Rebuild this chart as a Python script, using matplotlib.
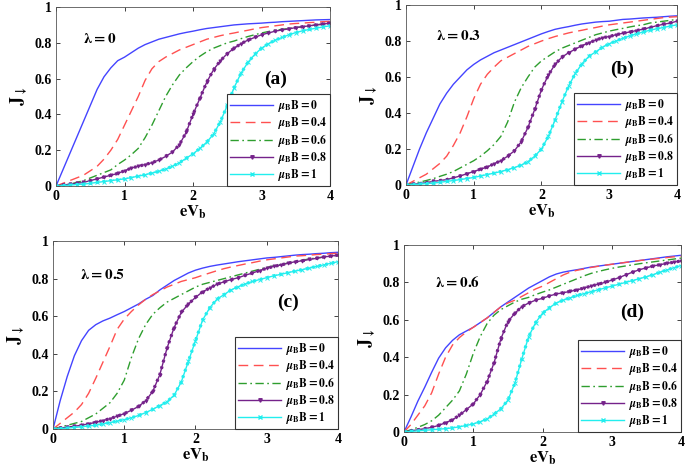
import matplotlib
matplotlib.use("Agg")
import matplotlib.pyplot as plt
from matplotlib.lines import Line2D

plt.rcParams['font.family'] = ['Liberation Serif', 'DejaVu Serif']
plt.rcParams['font.weight'] = 'bold'
plt.rcParams['mathtext.fontset'] = 'stix'

# ---------------- data ----------------
eVb = [0.0, 0.1, 0.2, 0.3, 0.4, 0.5, 0.6, 0.7, 0.8, 0.9,
       1.0, 1.1, 1.2, 1.3, 1.4, 1.5, 1.6, 1.7, 1.8, 1.9,
       2.0, 2.1, 2.2, 2.3, 2.4, 2.5, 2.6, 2.7, 2.8, 2.9,
       3.0, 3.1, 3.2, 3.3, 3.4, 3.5, 3.6, 3.7, 3.8, 3.9, 4.0]

field_labels = ['0', '0.4', '0.6', '0.8', '1']
lambda_labels = ['0', '0.3', '0.5', '0.6']
panel_tags = ['(a)', '(b)', '(c)', '(d)']

# panel (a): lambda = 0
a_B0  = [0, 0.09, 0.18, 0.27, 0.36, 0.45, 0.54, 0.61, 0.66, 0.70,
         0.72, 0.745, 0.77, 0.79, 0.805, 0.82, 0.83, 0.84, 0.85, 0.858,
         0.865, 0.873, 0.88, 0.885, 0.89, 0.895, 0.90, 0.903, 0.906, 0.908,
         0.91, 0.913, 0.915, 0.918, 0.92, 0.922, 0.924, 0.926, 0.928, 0.929, 0.93]
a_B04 = [0, 0.015, 0.03, 0.045, 0.06, 0.085, 0.11, 0.15, 0.2, 0.26,
         0.34, 0.42, 0.50, 0.59, 0.655, 0.695, 0.72, 0.74, 0.76, 0.775,
         0.79, 0.805, 0.82, 0.83, 0.84, 0.848, 0.855, 0.863, 0.87, 0.878,
         0.885, 0.89, 0.895, 0.90, 0.905, 0.908, 0.91, 0.913, 0.915, 0.918, 0.92]
a_B06 = [0, 0.005, 0.01, 0.02, 0.03, 0.045, 0.06, 0.075, 0.09, 0.12,
         0.145, 0.175, 0.21, 0.27, 0.34, 0.42, 0.50, 0.565, 0.62, 0.66,
         0.695, 0.725, 0.75, 0.77, 0.785, 0.80, 0.81, 0.823, 0.835, 0.845,
         0.855, 0.863, 0.87, 0.875, 0.88, 0.885, 0.89, 0.895, 0.90, 0.905, 0.91]
a_B08 = [0, 0.005, 0.01, 0.015, 0.02, 0.03, 0.04, 0.05, 0.06, 0.07,
         0.085, 0.1, 0.11, 0.12, 0.13, 0.145, 0.165, 0.19, 0.23, 0.30,
         0.40, 0.49, 0.58, 0.65, 0.70, 0.74, 0.77, 0.795, 0.815, 0.83,
         0.845, 0.855, 0.865, 0.872, 0.878, 0.885, 0.89, 0.895, 0.90, 0.905, 0.91]
a_B1  = [0, 0.002, 0.005, 0.008, 0.01, 0.015, 0.02, 0.025, 0.03, 0.035,
         0.04, 0.047, 0.055, 0.063, 0.072, 0.082, 0.095, 0.11, 0.13, 0.155,
         0.18, 0.21, 0.245, 0.29, 0.36, 0.45, 0.55, 0.63, 0.69, 0.735,
         0.77, 0.795, 0.815, 0.83, 0.845, 0.857, 0.867, 0.875, 0.882, 0.889, 0.895]

# panel (b): lambda = 0.3
b_B0  = [0, 0.1, 0.2, 0.29, 0.37, 0.45, 0.51, 0.56, 0.60, 0.64,
         0.67, 0.695, 0.715, 0.735, 0.75, 0.765, 0.78, 0.795, 0.81, 0.825,
         0.84, 0.853, 0.865, 0.873, 0.88, 0.888, 0.895, 0.90, 0.905, 0.908,
         0.91, 0.915, 0.92, 0.922, 0.925, 0.928, 0.93, 0.932, 0.935, 0.938, 0.94]
b_B04 = [0, 0.02, 0.04, 0.06, 0.09, 0.12, 0.16, 0.22, 0.29, 0.38,
         0.48, 0.56, 0.615, 0.655, 0.69, 0.71, 0.73, 0.75, 0.77, 0.785,
         0.80, 0.813, 0.825, 0.835, 0.845, 0.853, 0.86, 0.868, 0.875, 0.883,
         0.89, 0.895, 0.90, 0.905, 0.91, 0.915, 0.92, 0.925, 0.93, 0.933, 0.935]
b_B06 = [0, 0.008, 0.016, 0.025, 0.035, 0.048, 0.06, 0.075, 0.095, 0.115,
         0.135, 0.16, 0.19, 0.225, 0.27, 0.35, 0.46, 0.54, 0.60, 0.655,
         0.69, 0.715, 0.74, 0.76, 0.775, 0.79, 0.805, 0.82, 0.835, 0.845,
         0.855, 0.863, 0.87, 0.878, 0.885, 0.89, 0.90, 0.905, 0.91, 0.915, 0.92]
b_B08 = [0, 0.004, 0.008, 0.013, 0.02, 0.025, 0.03, 0.04, 0.05, 0.063,
         0.075, 0.088, 0.10, 0.118, 0.135, 0.16, 0.19, 0.24, 0.32, 0.42,
         0.53, 0.61, 0.67, 0.71, 0.735, 0.755, 0.775, 0.79, 0.805, 0.818,
         0.825, 0.835, 0.843, 0.85, 0.858, 0.866, 0.875, 0.885, 0.893, 0.90, 0.91]
b_B1  = [0, 0.002, 0.005, 0.008, 0.01, 0.015, 0.02, 0.025, 0.03, 0.036,
         0.042, 0.05, 0.058, 0.066, 0.075, 0.085, 0.097, 0.11, 0.13, 0.16,
         0.20, 0.27, 0.36, 0.46, 0.55, 0.62, 0.675, 0.715, 0.74, 0.765,
         0.785, 0.80, 0.815, 0.828, 0.84, 0.85, 0.86, 0.868, 0.875, 0.883, 0.89]

# panel (c): lambda = 0.5
c_B0  = [0, 0.15, 0.28, 0.39, 0.47, 0.525, 0.555, 0.575, 0.59, 0.608,
         0.625, 0.645, 0.665, 0.69, 0.71, 0.74, 0.765, 0.79, 0.81, 0.83,
         0.845, 0.856, 0.865, 0.872, 0.878, 0.884, 0.89, 0.895, 0.90, 0.905,
         0.91, 0.913, 0.917, 0.921, 0.925, 0.928, 0.93, 0.933, 0.935, 0.938, 0.94]
c_B04 = [0, 0.03, 0.06, 0.09, 0.13, 0.19, 0.27, 0.355, 0.44, 0.53,
         0.585, 0.625, 0.66, 0.69, 0.715, 0.735, 0.755, 0.77, 0.785, 0.795,
         0.805, 0.818, 0.83, 0.842, 0.853, 0.862, 0.87, 0.878, 0.885, 0.893,
         0.90, 0.905, 0.91, 0.915, 0.92, 0.922, 0.925, 0.928, 0.93, 0.933, 0.935]
c_B06 = [0, 0.01, 0.02, 0.03, 0.04, 0.06, 0.08, 0.11, 0.14, 0.19,
         0.26, 0.38, 0.48, 0.555, 0.61, 0.645, 0.675, 0.695, 0.715, 0.735,
         0.755, 0.77, 0.78, 0.79, 0.80, 0.81, 0.82, 0.83, 0.84, 0.85,
         0.86, 0.868, 0.875, 0.883, 0.89, 0.898, 0.905, 0.91, 0.915, 0.92, 0.925]
c_B08 = [0, 0.005, 0.01, 0.015, 0.02, 0.028, 0.035, 0.045, 0.055, 0.068,
         0.082, 0.10, 0.12, 0.15, 0.2, 0.29, 0.43, 0.54, 0.62, 0.665,
         0.70, 0.73, 0.75, 0.77, 0.783, 0.795, 0.805, 0.818, 0.83, 0.843,
         0.855, 0.865, 0.873, 0.882, 0.89, 0.895, 0.902, 0.908, 0.915, 0.92, 0.925]
c_B1  = [0, 0.002, 0.005, 0.008, 0.012, 0.016, 0.02, 0.027, 0.034, 0.042,
         0.05, 0.06, 0.072, 0.087, 0.105, 0.125, 0.145, 0.18, 0.25, 0.36,
         0.47, 0.58, 0.645, 0.69, 0.715, 0.74, 0.757, 0.772, 0.785, 0.795,
         0.805, 0.815, 0.823, 0.832, 0.84, 0.848, 0.856, 0.865, 0.873, 0.882, 0.89]

# panel (d): lambda = 0.6
d_B0  = [0, 0.08, 0.165, 0.24, 0.32, 0.395, 0.45, 0.49, 0.52, 0.54,
         0.56, 0.585, 0.61, 0.64, 0.67, 0.695, 0.72, 0.745, 0.77, 0.79,
         0.81, 0.83, 0.845, 0.855, 0.862, 0.868, 0.875, 0.882, 0.887, 0.892,
         0.897, 0.902, 0.907, 0.912, 0.917, 0.922, 0.927, 0.932, 0.937, 0.941, 0.945]
d_B04 = [0, 0.04, 0.09, 0.14, 0.21, 0.31, 0.40, 0.465, 0.505, 0.535,
         0.56, 0.585, 0.61, 0.64, 0.67, 0.69, 0.705, 0.725, 0.745, 0.765,
         0.78, 0.80, 0.82, 0.84, 0.855, 0.865, 0.872, 0.88, 0.886, 0.892,
         0.897, 0.902, 0.907, 0.912, 0.917, 0.921, 0.925, 0.929, 0.933, 0.937, 0.94]
d_B06 = [0, 0.012, 0.025, 0.04, 0.06, 0.09, 0.13, 0.17, 0.22, 0.31,
         0.42, 0.51, 0.58, 0.625, 0.655, 0.675, 0.695, 0.71, 0.72, 0.735,
         0.748, 0.76, 0.775, 0.79, 0.805, 0.82, 0.835, 0.848, 0.858, 0.867,
         0.875, 0.882, 0.888, 0.894, 0.90, 0.905, 0.91, 0.915, 0.92, 0.925, 0.93]
d_B08 = [0, 0.006, 0.012, 0.018, 0.025, 0.035, 0.05, 0.065, 0.09, 0.12,
         0.15, 0.2, 0.27, 0.37, 0.5, 0.59, 0.635, 0.67, 0.69, 0.705,
         0.715, 0.728, 0.738, 0.745, 0.752, 0.76, 0.77, 0.78, 0.79, 0.80,
         0.812, 0.825, 0.84, 0.855, 0.868, 0.878, 0.888, 0.895, 0.902, 0.908, 0.915]
d_B1  = [0, 0.003, 0.006, 0.009, 0.012, 0.015, 0.018, 0.022, 0.028, 0.035,
         0.043, 0.055, 0.07, 0.095, 0.125, 0.17, 0.26, 0.39, 0.51, 0.585,
         0.635, 0.665, 0.69, 0.705, 0.718, 0.73, 0.74, 0.75, 0.76, 0.77,
         0.78, 0.79, 0.80, 0.81, 0.82, 0.83, 0.842, 0.855, 0.867, 0.879, 0.89]

panels = [
    [a_B0, a_B04, a_B06, a_B08, a_B1],
    [b_B0, b_B04, b_B06, b_B08, b_B1],
    [c_B0, c_B04, c_B06, c_B08, c_B1],
    [d_B0, d_B04, d_B06, d_B08, d_B1],
]

# ---------------- styling ----------------
colors = ['#4444ff', '#ff5050', '#2e9e2e', '#75228a', '#22eeee']
styles = ['-', (0, (7, 4)), (0, (6, 2.5, 1.2, 2.5)), '-', '-']
markers = [None, None, None, 'v', 'x']

axes_rects = [
    [0.0818, 0.6076, 0.400, 0.3776],
    [0.5927, 0.6097, 0.3956, 0.3797],
    [0.0774, 0.0949, 0.4160, 0.3966],
    [0.5898, 0.0886, 0.4044, 0.3945],
]
lam_pos = [(0.64, 0.82), (0.77, 0.83), (0.70, 0.82), (0.78, 0.80)]
tag_pos = [(3.2, 0.595), (3.19, 0.64), (3.3, 0.675), (3.29, 0.64)]

fig = plt.figure(figsize=(6.85, 4.74), dpi=100)

for i, curves in enumerate(panels):
    ax = fig.add_axes(axes_rects[i])
    handles = []
    for j, yv in enumerate(curves):
        lab = r'$\mu_\mathbf{B}\mathbf{B{=}' + field_labels[j] + '}$'
        if markers[j] is None:
            ax.plot(eVb, yv, color=colors[j], linestyle=styles[j], lw=1.0)
        else:
            ax.plot(eVb, yv, color=colors[j], linestyle='-', lw=1.0,
                    marker=markers[j], markersize=2.2, markeredgewidth=0.7)
            # dense marker look along the curve
            ax.plot(eVb, yv, color=colors[j], linestyle=(0, (0.8, 1.3)), lw=2.3,
                    dash_capstyle='butt')
        handles.append(Line2D([], [], color=colors[j],
                              linestyle=styles[j] if markers[j] is None else '-',
                              lw=1.0, marker=markers[j], markersize=2.5, label=lab))
    ax.set_xlim(0, 4)
    ax.set_ylim(0, 1)
    ax.set_xticks([0, 1, 2, 3, 4])
    ax.set_yticks([0, 0.2, 0.4, 0.6, 0.8, 1.0])
    ax.set_yticklabels(['0', '0.2', '0.4', '0.6', '0.8', '1'])
    ax.tick_params(direction='in', top=True, right=True, length=3, width=0.6,
                   labelsize=10, pad=3, colors='#222222')
    for lab in ax.get_xticklabels() + ax.get_yticklabels():
        lab.set_fontweight('bold')
        lab.set_color('black')
    for sp in ax.spines.values():
        sp.set_linewidth(0.6)
        sp.set_color('#555555')
    ax.set_xlabel(r'$\mathbf{eV}_\mathbf{b}$', fontsize=12, labelpad=0)
    ax.set_ylabel(r'$\mathbf{J}_{\downarrow}$', fontsize=13, labelpad=4)
    ax.text(lam_pos[i][0], lam_pos[i][1], r'$\mathbf{\lambda{=}' + lambda_labels[i] + '}$',
            fontsize=11, ha='center', va='center')
    ax.text(tag_pos[i][0], tag_pos[i][1], panel_tags[i], fontsize=14, fontweight='bold',
            ha='center', va='center')
    leg = ax.legend(handles=handles, loc='lower right', borderaxespad=0, fontsize=8.3,
                    handlelength=3.7, numpoints=1, fancybox=False, framealpha=1,
                    edgecolor='#333333', borderpad=0.3, labelspacing=0.08,
                    handletextpad=0.4)
    leg.get_frame().set_linewidth(0.8)

fig.savefig('out.png', dpi=100)
